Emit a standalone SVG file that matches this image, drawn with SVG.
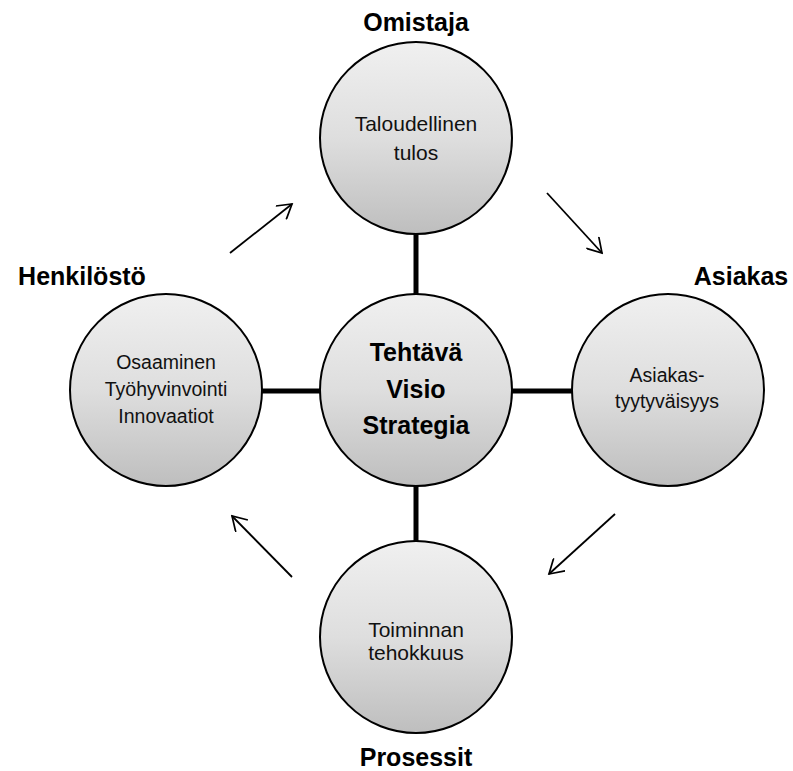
<svg xmlns="http://www.w3.org/2000/svg" width="793" height="771" viewBox="0 0 793 771">
<defs>
<linearGradient id="g" x1="0" y1="0" x2="0" y2="1">
<stop offset="0" stop-color="#f0f0f0"/>
<stop offset="0.5" stop-color="#dedede"/>
<stop offset="1" stop-color="#bebebe"/>
</linearGradient>
<marker id="ah" viewBox="0 0 18 18" refX="16" refY="9" markerWidth="18" markerHeight="18" markerUnits="userSpaceOnUse" orient="auto">
<path d="M2,0.5 L16,9 L2,17.5" fill="none" stroke="#000" stroke-width="1.7"/>
</marker>
</defs>
<style>
.c{fill:url(#g);stroke:#000;stroke-width:2}
.t{font-family:"Liberation Sans",Arial,sans-serif;fill:#111;text-anchor:middle}
.b{font-family:"Liberation Sans",Arial,sans-serif;font-weight:bold;fill:#000;text-anchor:middle;font-size:25px}
.l{stroke:#000;stroke-width:5}
.a{stroke:#000;stroke-width:1.8;fill:none;marker-end:url(#ah)}
</style>
<rect width="793" height="771" fill="#fff"/>
<g id="connectors">
<line class="l" x1="416" y1="233" x2="416" y2="295"/>
<line class="l" x1="416" y1="485" x2="416" y2="542"/>
<line class="l" x1="262" y1="391" x2="320" y2="391"/>
<line class="l" x1="512" y1="391" x2="572" y2="391"/>
<line class="a" x1="230" y1="253" x2="292" y2="204"/>
<line class="a" x1="547" y1="193" x2="602" y2="253"/>
<line class="a" x1="615" y1="514" x2="549" y2="574"/>
<line class="a" x1="292" y1="577" x2="232" y2="516"/>
</g>
<g id="omistaja">
<circle class="c" cx="416" cy="138" r="96"/>
<text class="b" x="416" y="31">Omistaja</text>
<text class="t" x="416" y="131" font-size="21">Taloudellinen</text>
<text class="t" x="416" y="160" font-size="21">tulos</text>
</g>
<g id="center">
<circle class="c" cx="416" cy="390" r="96"/>
<text class="b" x="416" y="361">Tehtävä</text>
<text class="b" x="416" y="398">Visio</text>
<text class="b" x="416" y="434">Strategia</text>
</g>
<g id="henkilosto">
<circle class="c" cx="166" cy="390" r="96"/>
<text class="b" x="82" y="285">Henkilöstö</text>
<text class="t" x="166" y="369" font-size="19.5">Osaaminen</text>
<text class="t" x="166" y="396" font-size="19.5">Työhyvinvointi</text>
<text class="t" x="166" y="423" font-size="19.5">Innovaatiot</text>
</g>
<g id="asiakas">
<circle class="c" cx="668" cy="390" r="96"/>
<text class="b" x="741" y="285">Asiakas</text>
<text class="t" x="667" y="382" font-size="19.5">Asiakas-</text>
<text class="t" x="667" y="408" font-size="19.5">tyytyväisyys</text>
</g>
<g id="prosessit">
<circle class="c" cx="416" cy="637" r="96"/>
<text class="b" x="416" y="766">Prosessit</text>
<text class="t" x="416" y="637" font-size="21">Toiminnan</text>
<text class="t" x="416" y="660" font-size="21">tehokkuus</text>
</g>
</svg>
